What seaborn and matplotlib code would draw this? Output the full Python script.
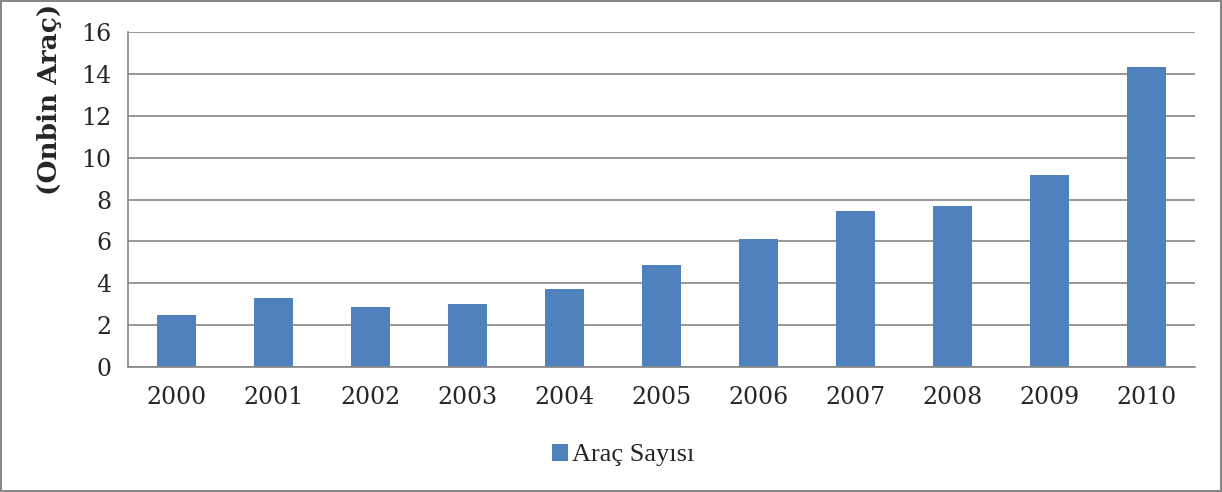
import pandas as pd
import matplotlib.pyplot as plt
import seaborn as sns

# Veriler
yillar = ["2000", "2001", "2002", "2003", "2004", "2005",
          "2006", "2007", "2008", "2009", "2010"]
arac_sayisi = [2.5, 3.32, 2.87, 3.01, 3.73, 4.88, 6.12, 7.45, 7.69, 9.18, 14.35]
seri_adi = "Araç Sayısı"
y_etiketi = "(Onbin Araç)"

df = pd.DataFrame({"yil": yillar, "deger": arac_sayisi})

sns.set_style("white")
plt.rcParams["font.family"] = ["DejaVu Serif"]

gri = "#868686"
mavi = "#4F81BD"

fig = plt.figure(figsize=(12.22, 4.92), dpi=100)
fig.patch.set_edgecolor(gri)
fig.patch.set_linewidth(1.5)
ax = fig.add_axes([0.1047, 0.254, 0.873, 0.681])

sns.barplot(data=df, x="yil", y="deger", color=mavi, width=0.4,
            saturation=1, label=seri_adi, ax=ax, edgecolor="none")

ax.set_ylim(0, 16)
ax.set_xlim(-0.5, len(yillar) - 0.5)
ax.set_yticks(range(0, 17, 2))
ax.yaxis.grid(True, color=gri, linewidth=1.2)
ax.set_axisbelow(True)

for s in ["top", "right"]:
    ax.spines[s].set_visible(False)
for s in ["left", "bottom"]:
    ax.spines[s].set_color(gri)
    ax.spines[s].set_linewidth(1.2)

# x: etiketler ortada, tik cizgileri kategori sinirlarinda
ax.tick_params(axis="x", which="major", length=0, pad=14, labelsize=17)
ax.set_xticks([i - 0.5 for i in range(len(yillar) + 1)], minor=True)
ax.tick_params(axis="x", which="minor", length=7, width=1.2, color=gri, direction="out")
ax.tick_params(axis="y", length=6, width=1.2, color=gri, direction="out", labelsize=17, pad=6)

ax.set_xlabel("")
ax.set_ylabel(y_etiketi, fontsize=19, fontweight="bold")
ax.yaxis.set_label_coords(-0.062, 0.80)

if ax.legend_:
    ax.legend_.remove()
h, l = ax.get_legend_handles_labels()
fig.legend(h, l, loc="center", bbox_to_anchor=(0.51, 0.075), frameon=False,
           handlelength=0.6, handleheight=0.6, handletextpad=0.15,
           prop={"family": "Liberation Serif", "size": 19})

fig.savefig("out.png", dpi=100)
